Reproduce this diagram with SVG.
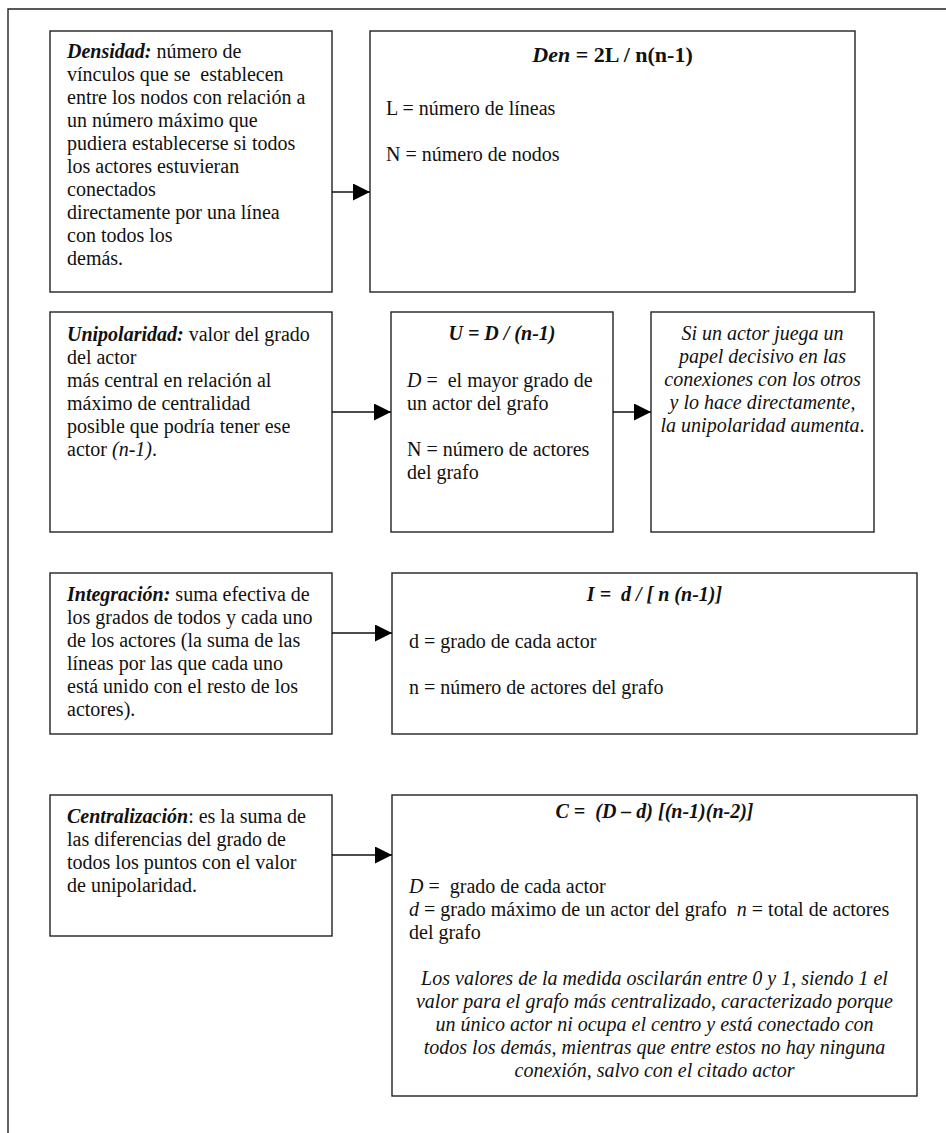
<svg xmlns="http://www.w3.org/2000/svg" width="946" height="1133" viewBox="0 0 946 1133">
<style>
text{font-family:"Liberation Serif","Times New Roman",serif;font-size:20px;fill:#111;white-space:pre}
.box{fill:#fff;stroke:#222;stroke-width:1.4}
.c{text-anchor:middle}
.b{font-weight:bold}
.i{font-style:italic}
.bi{font-weight:bold;font-style:italic}
.f{font-size:22px;font-weight:bold}
.edge{stroke:#111;stroke-width:1.5;fill:none}
</style>
<defs>
<marker id="ah" markerUnits="userSpaceOnUse" markerWidth="17" markerHeight="17" refX="17" refY="8.5" orient="auto">
<path d="M0,0 L17,8.5 L0,17 z" fill="#000"/>
</marker>
</defs>
<rect width="946" height="1133" fill="#fff"/>
<path d="M8,1133 V9 H946" fill="none" stroke="#222" stroke-width="1.4"/>

<g id="densidad">
<rect class="box" x="50" y="31" width="282" height="261"/>
<text x="67" y="58"><tspan class="bi">Densidad:</tspan> número de</text>
<text x="67" y="81">vínculos que se  establecen</text>
<text x="67" y="104">entre los nodos con relación a</text>
<text x="67" y="127">un número máximo que</text>
<text x="67" y="150">pudiera establecerse si todos</text>
<text x="67" y="173">los actores estuvieran</text>
<text x="67" y="196">conectados</text>
<text x="67" y="219">directamente por una línea</text>
<text x="67" y="242">con todos los</text>
<text x="67" y="265">demás.</text>
</g>

<g id="den-formula">
<rect class="box" x="370" y="31" width="485" height="261"/>
<text class="c f" x="612.5" y="62"><tspan class="i">Den</tspan> = 2L / n(n-1)</text>
<text x="386" y="115">L = número de líneas</text>
<text x="386" y="161">N = número de nodos</text>
</g>

<g id="unipolaridad">
<rect class="box" x="50" y="312" width="282" height="220"/>
<text x="67" y="341"><tspan class="bi">Unipolaridad:</tspan> valor del grado</text>
<text x="67" y="364">del actor</text>
<text x="67" y="387">más central en relación al</text>
<text x="67" y="410">máximo de centralidad</text>
<text x="67" y="433">posible que podría tener ese</text>
<text x="67" y="456">actor <tspan class="i">(n-1)</tspan>.</text>
</g>

<g id="u-formula">
<rect class="box" x="391" y="312" width="222" height="220"/>
<text class="c bi" x="502" y="340">U = D / (n-1)</text>
<text x="407" y="387"><tspan class="i">D</tspan> =  el mayor grado de</text>
<text x="407" y="410">un actor del grafo</text>
<text x="407" y="456">N = número de actores</text>
<text x="407" y="479">del grafo</text>
</g>

<g id="u-nota">
<rect class="box" x="651" y="312" width="223" height="220"/>
<text class="c i" x="762.5" y="340">Si un actor juega un</text>
<text class="c i" x="762.5" y="363">papel decisivo en las</text>
<text class="c i" x="762.5" y="386">conexiones con los otros</text>
<text class="c i" x="762.5" y="409">y lo hace directamente,</text>
<text class="c" x="762.5" y="432"><tspan class="i">la unipolaridad aumenta</tspan>.</text>
</g>

<g id="integracion">
<rect class="box" x="50" y="573" width="282" height="161"/>
<text x="67" y="601"><tspan class="bi">Integración:</tspan> suma efectiva de</text>
<text x="67" y="624">los grados de todos y cada uno</text>
<text x="67" y="647">de los actores (la suma de las</text>
<text x="67" y="670">líneas por las que cada uno</text>
<text x="67" y="693">está unido con el resto de los</text>
<text x="67" y="716">actores).</text>
</g>

<g id="i-formula">
<rect class="box" x="392" y="573" width="525" height="161"/>
<text class="c bi" x="654.5" y="601">I =  d / [ n (n-1)]</text>
<text x="409" y="648">d = grado de cada actor</text>
<text x="409" y="694">n = número de actores del grafo</text>
</g>

<g id="centralizacion">
<rect class="box" x="50" y="795" width="282" height="141"/>
<text x="67" y="823"><tspan class="bi">Centralización</tspan>: es la suma de</text>
<text x="67" y="846">las diferencias del grado de</text>
<text x="67" y="869">todos los puntos con el valor</text>
<text x="67" y="892">de unipolaridad.</text>
</g>

<g id="c-formula">
<rect class="box" x="392" y="795" width="525" height="301"/>
<text class="c bi" x="654.5" y="818">C =  (D – d) [(n-1)(n-2)]</text>
<text x="409" y="893"><tspan class="i">D</tspan> =  grado de cada actor</text>
<text x="409" y="916"><tspan class="i">d</tspan> = grado máximo de un actor del grafo  <tspan class="i">n</tspan> = total de actores</text>
<text x="409" y="939">del grafo</text>
<text class="c i" x="654.5" y="985">Los valores de la medida oscilarán entre 0 y 1, siendo 1 el</text>
<text class="c i" x="654.5" y="1008">valor para el grafo más centralizado, caracterizado porque</text>
<text class="c i" x="654.5" y="1031">un único actor ni ocupa el centro y está conectado con</text>
<text class="c i" x="654.5" y="1054">todos los demás, mientras que entre estos no hay ninguna</text>
<text class="c i" x="654.5" y="1077">conexión, salvo con el citado actor</text>
</g>

<g id="connectors">
<path class="edge" d="M332,192 H370" marker-end="url(#ah)"/>
<path class="edge" d="M332,412 H391" marker-end="url(#ah)"/>
<path class="edge" d="M613,412 H651" marker-end="url(#ah)"/>
<path class="edge" d="M332,633 H392" marker-end="url(#ah)"/>
<path class="edge" d="M332,855 H392" marker-end="url(#ah)"/>
</g>
</svg>
